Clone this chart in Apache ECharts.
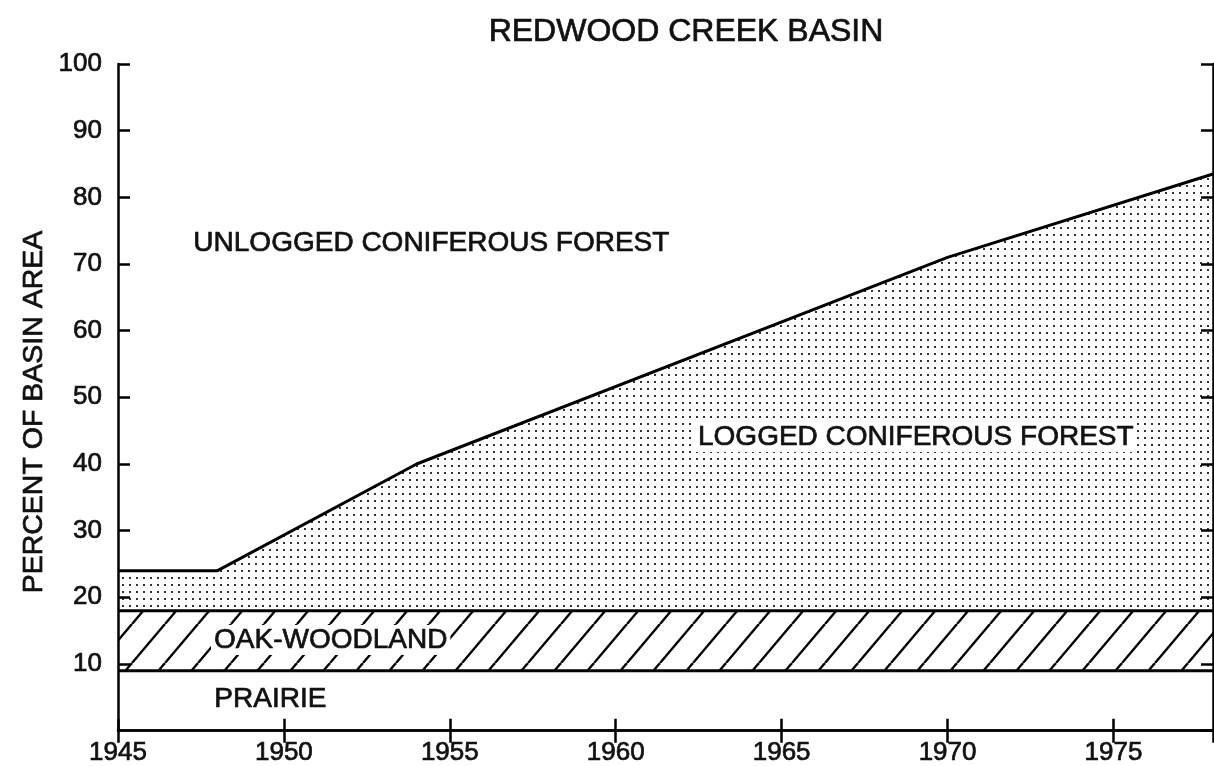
<!DOCTYPE html>
<html>
<head>
<meta charset="utf-8">
<script src="https://cdn.jsdelivr.net/npm/echarts@6/dist/echarts.min.js"></script>
</head>
<body style="margin:0;background:#fff">
<div id="main" style="width:1214px;height:766px;"></div>
<script type="text/javascript">
// percent of basin area: upper edge of each land class
var years = [1945, 1948, 1954, 1970, 1978];
var loggedTop = [24, 24, 40, 71, 83.5];
var bandYears = [1945, 1978];
var oakTop = [18, 18];
var prairieTop = [9, 9];

function pairs(xs, ys) {
    return xs.map(function (x, i) { return [x, ys[i]]; });
}

// stipple for the logged forest
var dots = document.createElement('canvas');
dots.width = 7; dots.height = 7;
var dc = dots.getContext('2d');
dc.fillStyle = '#333';
dc.fillRect(3, 3, 2, 2);

// diagonal hatch for the oak woodland
var hw = 33, hh = 39;
var hatch = document.createElement('canvas');
hatch.width = hw; hatch.height = hh;
var hc = hatch.getContext('2d');
hc.fillStyle = '#fff';
hc.fillRect(0, 0, hw, hh);
hc.strokeStyle = '#000';
hc.lineWidth = 2.4;
for (var k = -1; k <= 1; k++) {
    hc.beginPath();
    hc.moveTo(k * hw, hh);
    hc.lineTo(k * hw + hw, 0);
    hc.stroke();
}

var font = 'Liberation Sans, Arial, sans-serif';
var ink = '#111';
var black = '#000';

var myChart = echarts.init(document.getElementById('main'));

var axisLine = { show: true, lineStyle: { color: black, width: 2.5 } };
var axisTick = { show: true, inside: true, length: 12, lineStyle: { color: black, width: 2.5 } };

function label(text, left, top, knockout) {
    var style = { text: text, font: '28px ' + font, fill: ink, stroke: ink, lineWidth: 0.7 };
    if (knockout) {
        style.backgroundColor = '#fff';
        style.padding = [1, 3, 1, 3];
    }
    return { type: 'text', left: left, top: top, z: 100, style: style };
}

var option = {
    backgroundColor: '#fff',
    animation: false,
    title: {
        text: 'REDWOOD CREEK BASIN',
        left: 681,
        top: 11,
        textAlign: 'center',
        textStyle: {
            fontFamily: font, fontSize: 32, fontWeight: 'normal', color: ink,
            textBorderColor: ink, textBorderWidth: 0.7
        }
    },
    grid: { left: 118, right: 1, top: 64, bottom: 34 },
    xAxis: [{
        type: 'value',
        min: 1945, max: 1978, interval: 5,
        z: 10,
        axisLine: axisLine,
        axisTick: axisTick,
        splitLine: { show: false },
        axisLabel: {
            showMaxLabel: false,
            margin: 9,
            formatter: function (v) { return String(v); },
            fontFamily: font, fontSize: 26, color: ink,
            textBorderColor: ink, textBorderWidth: 0.7
        }
    }, {
        type: 'value', position: 'top',
        min: 1945, max: 1978, interval: 5,
        z: 10,
        axisLine: axisLine,
        axisTick: axisTick,
        splitLine: { show: false },
        axisLabel: { show: false }
    }],
    yAxis: [{
        type: 'value',
        min: 0, max: 100, interval: 10,
        z: 10,
        axisLine: axisLine,
        axisTick: axisTick,
        splitLine: { show: false },
        axisLabel: {
            showMinLabel: false,
            margin: 16,
            fontFamily: font, fontSize: 26, color: ink,
            textBorderColor: ink, textBorderWidth: 0.7
        }
    }, {
        type: 'value', position: 'right',
        min: 0, max: 100, interval: 10,
        z: 10,
        axisLine: axisLine,
        axisTick: axisTick,
        splitLine: { show: false },
        axisLabel: { show: false }
    }],
    graphic: [
        {
            type: 'text', x: 34, y: 412, rotation: Math.PI / 2, z: 100,
            style: {
                text: 'PERCENT OF BASIN AREA', font: '28.5px ' + font,
                fill: ink, stroke: ink, lineWidth: 0.7,
                align: 'center', verticalAlign: 'middle',
                textAlign: 'center', textVerticalAlign: 'middle'
            }
        },
        label('UNLOGGED CONIFEROUS FOREST', 193, 229, false),
        label('LOGGED CONIFEROUS FOREST', 695, 422, true),
        label('OAK-WOODLAND', 211, 625, true),
        label('PRAIRIE', 214, 685, false)
    ],
    series: [{
        name: 'Logged coniferous forest',
        type: 'line',
        data: pairs(years, loggedTop),
        symbol: 'none',
        lineStyle: { color: black, width: 3 },
        areaStyle: { color: { image: dots, repeat: 'repeat' }, opacity: 1 }
    }, {
        name: 'Oak-woodland',
        type: 'line',
        data: pairs(bandYears, oakTop),
        symbol: 'none',
        lineStyle: { color: black, width: 3 },
        areaStyle: { color: { image: hatch, repeat: 'repeat' }, opacity: 1 }
    }, {
        name: 'Prairie',
        type: 'line',
        data: pairs(bandYears, prairieTop),
        symbol: 'none',
        lineStyle: { color: black, width: 3 },
        areaStyle: { color: '#fff', opacity: 1 }
    }]
};

myChart.setOption(option);
</script>
</body>
</html>
